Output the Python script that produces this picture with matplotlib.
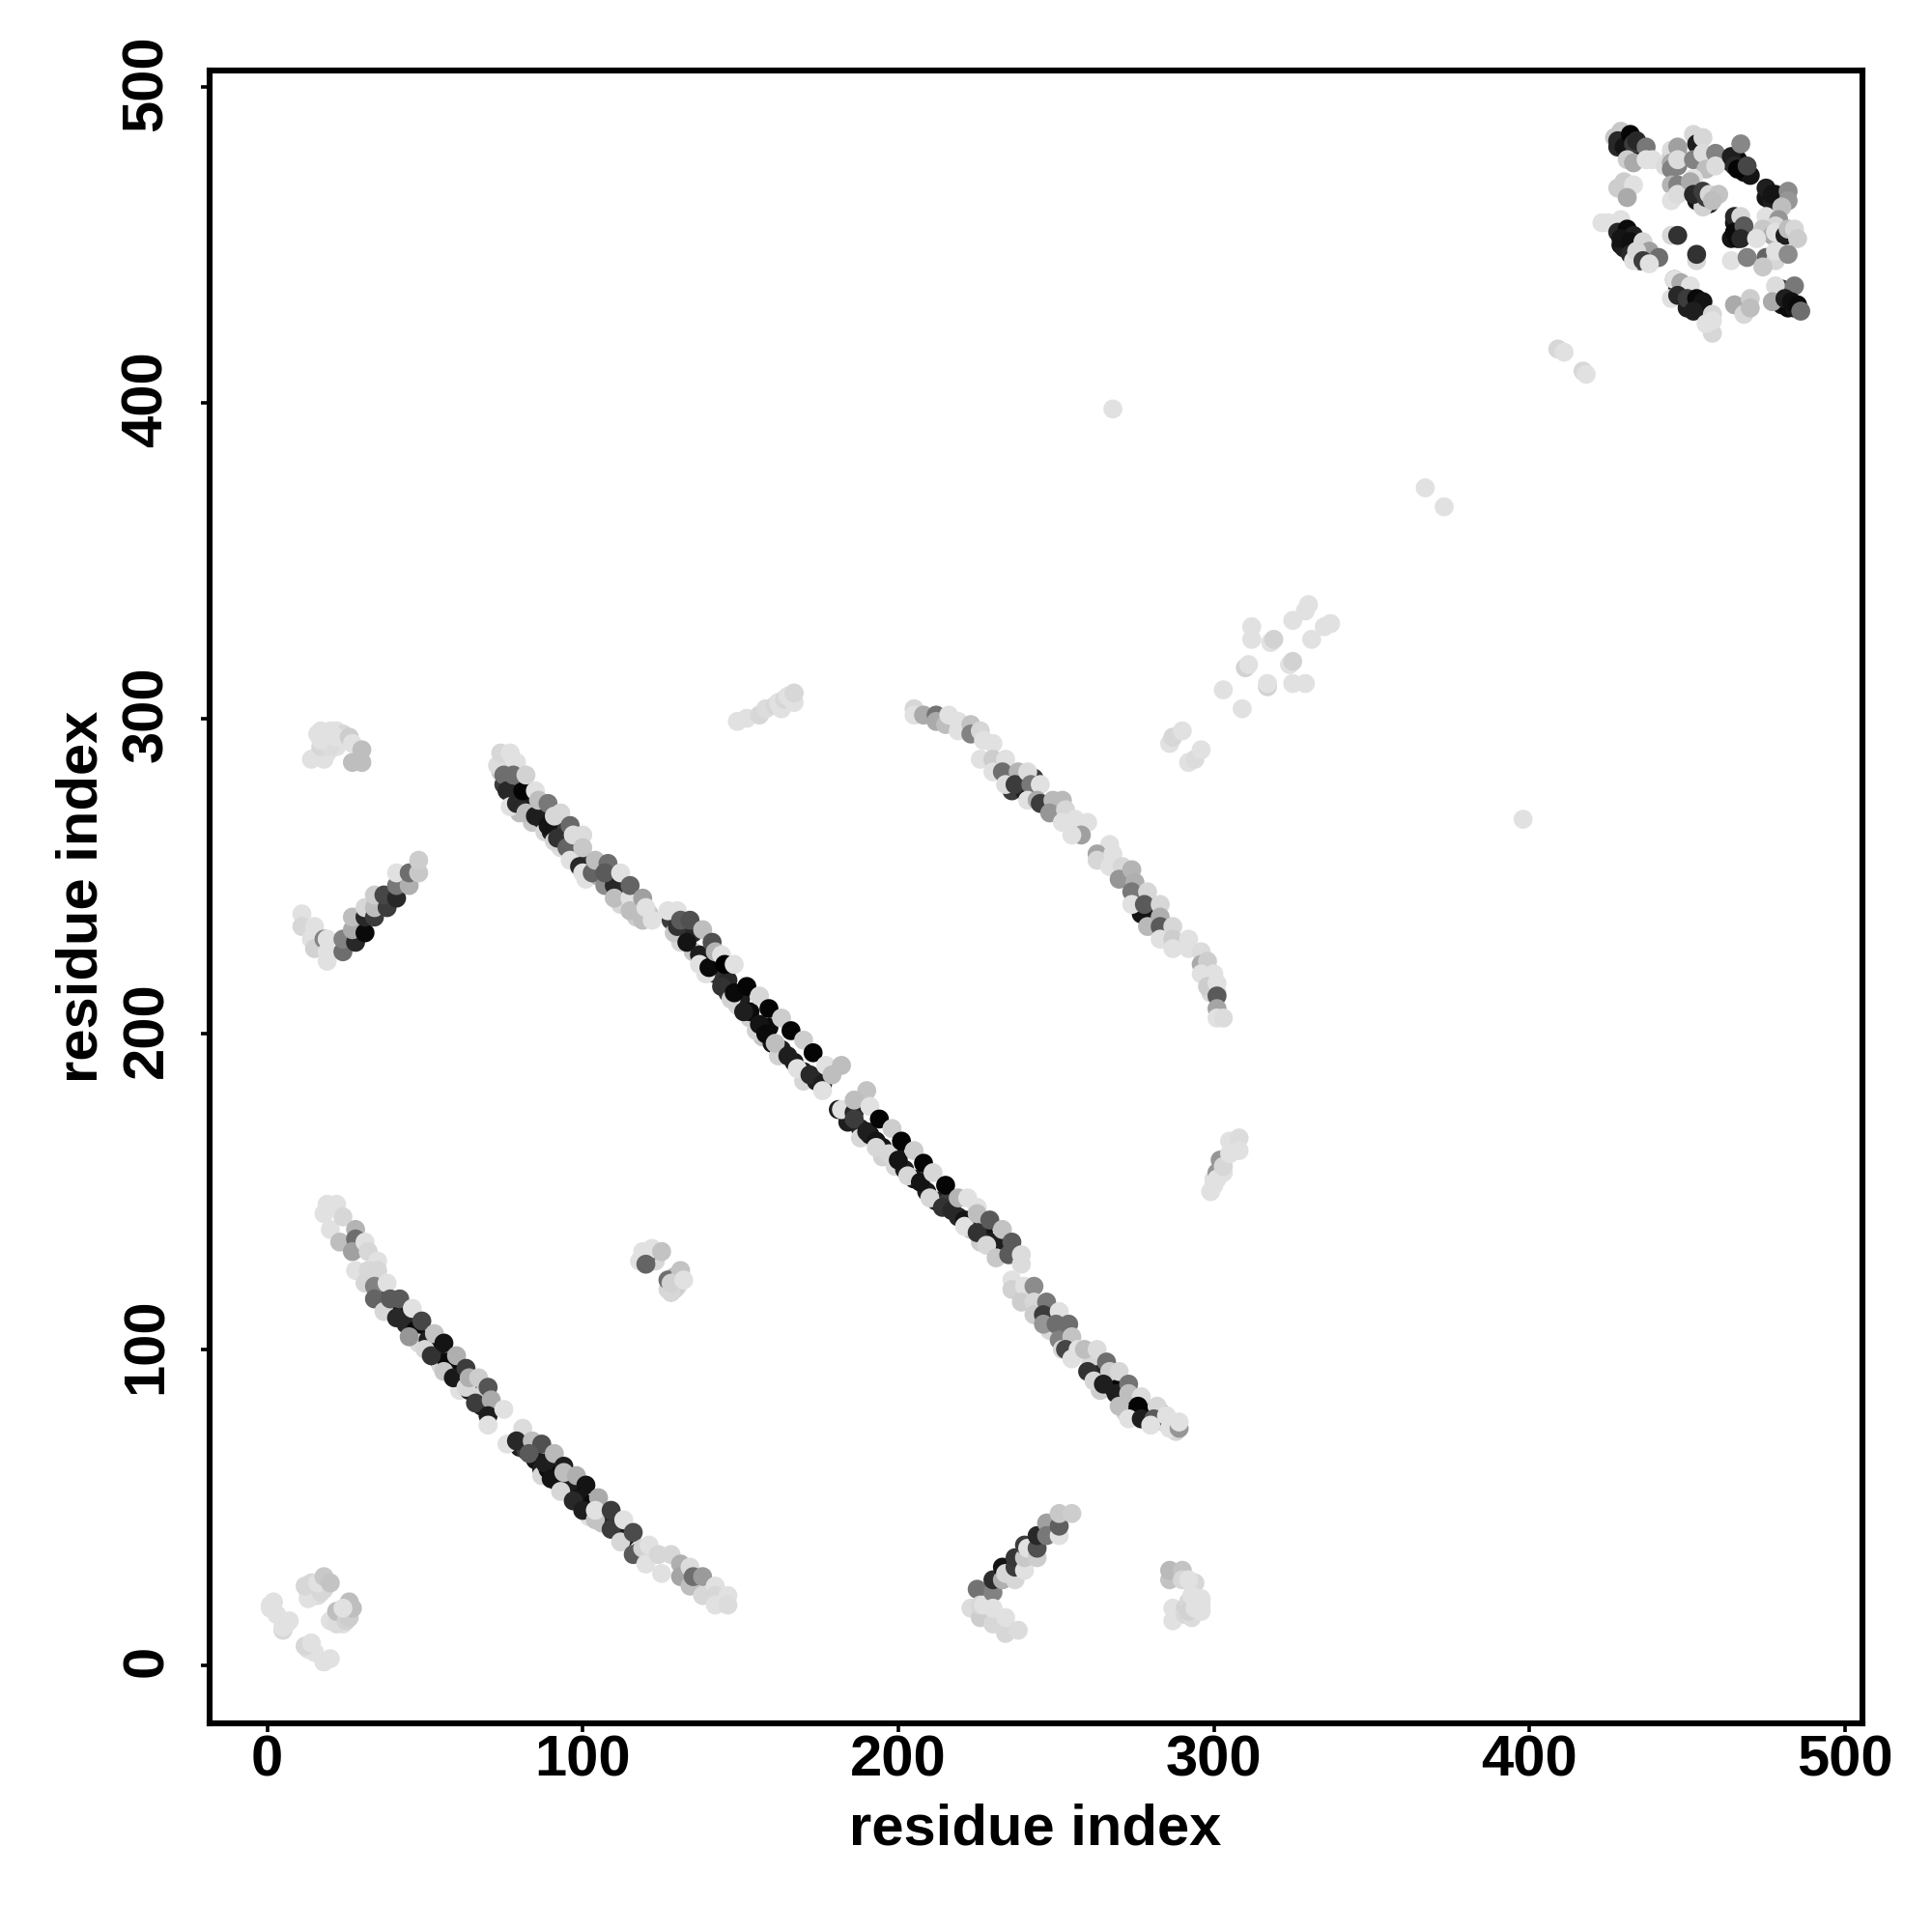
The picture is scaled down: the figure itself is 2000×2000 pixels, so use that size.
import matplotlib
matplotlib.use('Agg')
import matplotlib.pyplot as plt
from matplotlib.transforms import ScaledTranslation

plt.rcParams['font.family'] = ['Liberation Sans', 'DejaVu Sans']
plt.rcParams['font.weight'] = 'bold'

# darker contacts lying under the upper rows of each band
under_a_x = [74,75,77,78,80,83,84,87,88,90,93,93,97,98,101,101,105,105,108,112,112,117,117,121,128,131,131,135,135,139,142,139,146,146,149,150,153,153,157,159,160,163,162,167,170,170,174]
under_a_y = [283,279,280,275,270,272,267,268,264,264,264,259,257,255,254,249,250,252,248,245,241,241,237,238,236,231,229,232,226,224,219,219,217,213,209,211,205,207,199,202,197,195,193,191,188,185,185]
under_a_g = [200,60,120,30,190,30,200,40,215,30,60,220,130,215,60,225,170,80,60,60,215,50,205,200,60,60,215,40,200,20,50,225,40,60,215,30,210,10,200,10,20,30,210,25,30,215,30]

under_b_x = [184,188,188,191,195,195,199,199,202,205,209,212,216,219,223,223,227,226,229,232]
under_b_y = [172,170,167,168,164,161,162,158,157,154,150,147,147,142,138,141,137,134,134,133]
under_b_g = [30,35,215,20,20,210,30,215,30,25,30,40,60,40,205,30,20,205,30,30]

under_c_x = [241,248,252,261,263,264,267,268,271,272,274,272,275,278,279,283,284,288]
under_c_y = [118,106,104,96,92,87,90,88,84,86,82,80,80,81,79,80,77,74]
under_c_g = [215,215,100,215,40,205,5,5,5,20,5,210,30,20,5,40,210,215]

under_d_x = [36,40,43,44,47,48,51,51,54,55,57,58,61,61,64,67,68,70]
under_d_y = [118,114,113,108,106,102,103,100,97,95,96,93,90,87,87,85,82,81]
under_d_g = [70,40,20,40,10,220,30,10,30,215,10,10,20,225,30,215,30,30]

under_e_x = [80,82,85,87,87,89,91,92,95,95,97,99,101,102,103,106,106,108,111,113,114,118]
under_e_y = [69,68,65,62,60,62,60,58,58,55,56,53,50,47,51,49,45,47,43,40,41,36]
under_e_g = [30,60,20,30,215,10,5,30,20,30,30,20,20,225,10,180,195,40,40,20,30,60]

under_domain_x = [427,428,429,431,431,433,447,449,450,452,454,455,456,449,429,431,430,433,435,433,436,437,480,482,484,479,480,464,466,468,470,475,477,478,465,466,464,468,466,451,453,454,457,455,447,445,447]
under_domain_y = [484,481,484,483,479,479,436,433,430,431,430,429,428,437,450,452,449,449,445,447,447,445,431,430,430,433,436,476,477,473,472,465,463,466,457,455,452,453,452,467,464,465,463,462,480,478,475]
under_domain_g = [200,40,30,10,60,30,30,10,30,10,20,20,40,120,20,10,30,20,30,30,20,50,20,10,20,30,60,30,10,10,20,20,30,30,20,30,20,30,10,10,20,30,30,210,170,200,130]

under_curve_x = [235,236,239,240,243,243,278,278,277,301,299]
under_curve_y = [281,277,281,277,277,281,238,243,238,213,213]
under_curve_g = [60,60,30,30,90,60,30,60,20,215,215]

# main anti-diagonal, residues 73-182
band_a_low_x = [73,75,76,77,79,81,82,85,89,91,92,95,96,99,100,103,107,110,110,115,115,119,129,130,133,137,137,140,144,147,148,151,155,156,158,161,165,168,172,176,176]
band_a_low_y = [285,282,277,272,273,277,270,269,266,261,262,259,255,253,251,251,247,247,243,243,239,236,232,234,229,225,222,221,215,211,213,207,201,203,200,197,193,189,187,184,182]
band_a_low_g = [220,110,40,225,40,5,190,30,20,215,50,100,225,40,225,100,140,40,190,225,190,190,200,50,20,30,225,10,50,210,10,30,210,20,10,190,30,225,40,30,225]

band_a_up_x = [74,77,79,78,82,85,86,89,91,93,96,97,100,100,104,108,107,112,115,119,120,122,127,130,131,134,138,141,142,144,145,148,152,156,159,163,166,170,173,177,179,182]
band_a_up_y = [289,289,286,282,282,277,274,273,269,270,266,263,263,259,255,254,251,251,247,243,240,236,239,239,236,236,233,229,226,225,222,222,215,212,208,205,201,198,194,190,187,190]
band_a_up_g = [215,225,225,110,210,225,190,120,215,215,105,220,220,200,190,110,90,225,100,160,225,225,225,225,90,80,190,80,180,225,0,225,5,215,5,205,5,205,5,225,190,190]

# main anti-diagonal, residues 181-239
band_b_low_x = [181,182,186,186,190,193,193,197,200,203,207,210,214,217,221,221,225,228,231,235]
band_b_low_y = [176,176,175,173,169,166,164,162,160,155,153,148,145,144,141,139,137,133,129,130]
band_b_low_g = [30,225,40,60,30,20,215,215,20,215,20,215,50,40,20,225,50,215,200,90]

band_b_up_x = [190,186,191,194,198,201,205,208,211,215,219,222,225,225,229,233,236,239,239]
band_b_up_y = [182,179,177,173,170,166,163,159,156,152,148,148,145,143,141,138,134,127,130]
band_b_up_g = [195,190,225,5,205,5,205,5,215,5,180,225,225,190,90,195,90,220,220]

# main anti-diagonal, residues 236-289
band_c_x = [236,236,240,239,243,243,243,247,246,246,251,250,251,252,254,255,253,255,257,259,263,260,262,266,267,270,265,269,273,270,273,277,282,276,273,277,281,280,285,286,289,289]
band_c_y = [122,119,120,115,120,115,111,115,111,108,112,108,103,100,108,104,100,97,100,100,100,93,90,96,93,93,89,86,89,82,86,85,82,82,78,78,78,76,79,75,75,77]
band_c_g = [225,210,225,205,140,215,205,120,60,150,225,110,130,215,110,195,70,225,225,190,220,50,215,110,205,215,30,30,115,190,190,220,215,5,225,30,90,225,225,225,150,225]

# lower band, residues 18-75
band_d_x = [18,19,22,20,24,23,28,28,27,31,32,28,35,31,32,35,34,34,38,37,39,42,41,46,49,45,50,53,52,56,56,60,59,63,63,64,67,70,66,71,70,75,70]
band_d_y = [143,146,146,138,142,134,138,135,131,134,131,125,128,121,125,125,120,116,121,112,116,116,110,113,109,104,100,105,98,102,93,98,91,94,88,91,91,88,83,84,79,81,76]
band_d_g = [225,225,225,225,215,190,180,110,160,225,215,225,225,215,215,215,130,100,225,215,90,90,40,225,70,150,215,195,50,20,200,175,25,60,215,175,205,85,60,170,30,225,225]

# lower band, residues 76-146
band_e_x = [76,81,79,84,87,83,88,91,94,90,93,94,98,97,101,105,100,104,104,109,109,113,112,116,116,119,121,120,124,128,125,131,131,134,134,135,138,138,142,142,146,142,146]
band_e_y = [70,75,71,71,70,67,64,67,63,59,55,61,60,52,57,53,49,46,49,49,43,46,39,42,35,37,38,32,35,35,29,32,28,31,25,28,28,22,25,22,22,19,19]
band_e_g = [225,220,40,190,80,90,30,185,30,20,215,190,175,40,20,170,30,195,225,60,60,225,215,75,90,210,225,225,215,215,225,175,165,220,190,110,155,215,225,215,225,225,220]

# small patch near (125, 125)
patch_mid_x = [121,123,120,130,127,129,129,118,119,122,120,125,127,128,131,128,132]
patch_mid_y = [129,128,129,120,119,123,119,128,131,132,127,131,122,118,125,121,122]
patch_mid_g = [225,215,120,215,215,190,205,225,225,225,100,195,110,215,195,210,225]

# corner patch near the origin
patch_origin_x = [3,6,13,15,16,18,15,23,24,13,15,1,2,1,5,7,5,12,14,18,20,18,13,12,14,17,16,18,20,20,22,22,25,26,26,27,24]
patch_origin_y = [16,13,23,22,22,24,24,15,13,5,4,19,20,18,11,14,12,6,7,1,2,1,21,25,26,23,26,28,26,14,13,17,14,15,20,18,18]
patch_origin_g = [225,225,220,225,220,215,225,225,225,225,225,225,225,225,215,225,225,215,225,225,225,225,225,215,215,215,225,200,195,225,220,190,210,205,190,190,225]

# patch top left
patch_top_x = [16,18,22,24,19,22,16,14,18,17,20,17,20,17,22,26,27,27,30,30]
patch_top_y = [295,295,296,295,289,291,288,287,287,296,296,291,291,293,294,294,292,286,286,290]
patch_top_g = [225,225,225,215,225,225,215,225,225,225,225,215,220,225,225,205,225,190,190,190]

# short band rising, residues 11-48
rise_left_x = [11,11,15,14,15,18,19,19,19,24,24,28,27,27,31,31,31,34,34,34,38,37,41,41,41,45,45,48,48]
rise_left_y = [238,234,234,230,227,230,230,223,226,226,230,229,233,237,232,237,240,237,240,244,240,244,243,247,251,247,251,251,255]
rise_left_g = [225,215,225,225,210,130,225,225,225,110,130,40,170,190,10,40,215,60,190,205,60,70,40,120,225,175,110,200,205]

# short band rising, residues 223-255
rise_mid_x = [223,225,226,226,230,227,230,230,230,234,234,238,233,233,234,237,237,237,240,240,240,241,244,244,244,247,247,251,251,251,255]
rise_mid_y = [18,24,15,19,13,19,23,18,27,10,15,11,27,31,29,27,31,34,30,34,38,37,34,37,41,45,41,41,44,48,48]
rise_mid_g = [220,115,205,215,215,225,130,225,45,215,225,220,175,20,215,215,60,55,225,200,60,225,205,80,40,160,120,225,95,200,205]

# patch near (290, 20)
patch_low_x = [286,286,290,290,294,292,287,287,291,291,292,293,292,294,293,296,296,296,295]
patch_low_y = [27,30,30,27,26,27,18,14,18,16,20,15,17,18,22,19,17,21,19]
patch_low_g = [195,185,195,215,215,225,225,225,210,215,215,220,210,225,225,225,225,225,225]

# curved band, residues 205-303
curve_x = [205,205,208,212,212,215,216,219,219,223,223,226,227,230,226,230,230,234,233,234,238,237,241,242,241,245,244,245,249,252,248,253,252,256,260,258,255,267,263,263,268,267,271,270,274,275,274,274,279,278,279,283,283,283,283,287,287,287,292,292,296,296,298,296,300,298,301,301,301,301,303]
curve_y = [303,301,301,301,299,298,301,299,296,298,295,296,293,292,287,287,283,287,283,279,283,279,283,279,274,279,274,273,274,274,270,271,267,268,267,263,263,260,257,255,257,253,253,249,252,248,245,241,245,241,234,241,237,234,230,234,230,227,230,227,226,222,223,219,219,215,216,212,208,205,205]
curve_g = [215,225,170,115,170,190,225,225,225,195,130,215,225,225,225,205,225,225,110,220,180,60,220,120,225,225,170,60,185,185,150,215,225,225,225,160,225,225,165,215,225,225,215,150,180,175,120,225,215,90,185,215,175,90,225,215,205,225,225,225,220,170,205,225,225,205,225,90,165,225,220]

# patch near (303, 158)
patch_right_x = [303,300,299,300,301,301,302,303,305,305,308,308]
patch_right_y = [156,154,150,152,156,154,160,158,162,166,167,163]
patch_right_g = [225,225,225,225,150,225,150,215,225,225,220,225]

# patch near (158, 303)
patch_upper_x = [149,152,156,158,161,162,163,164,165,167,167]
patch_upper_y = [299,300,301,303,304,305,303,306,307,305,308]
patch_upper_g = [225,225,215,220,215,225,225,215,225,225,215]

# faint contacts around (310, 315)
faint_x = [286,287,290,292,294,296,303,309,310,311,317,317,312,312,318,319,324,325,325,329,325,329,330,331,335,337]
faint_y = [292,294,296,286,287,290,309,303,316,317,310,311,329,325,324,325,317,318,311,311,331,334,336,325,329,330]
faint_g = [225,215,225,225,220,225,225,225,210,225,210,225,225,225,225,210,225,210,225,225,225,225,225,225,225,225]

# single contacts
lone_x = [268,398,367,373,409,411,417,418]
lone_y = [398,268,373,367,417,416,410,409]
lone_g = [225,225,225,225,215,225,215,225]

# top right domain
domain_x = [429,428,430,432,433,434,437,431,433,437,439,443,445,447,445,445,447,452,453,455,452,455,456,459,459,464,465,467,466,469,
            445,447,445,447,452,451,452,455,456,457,460,458,475,477,482,482,480,475,479,478,474,477,478,481,482,484,485,
            428,430,433,431,423,425,429,428,431,433,429,432,432,436,438,433,434,436,441,438,445,447,453,453,
            445,446,446,448,451,447,450,453,455,452,458,458,458,456,465,470,468,470,478,484,477,481,483,485,486,
            465,467,465,468,467,472,464,469,475,478,478,482,474]
domain_y = [486,483,481,485,482,483,481,477,476,477,477,475,480,481,476,474,477,485,482,484,477,479,474,479,475,478,475,482,474,475,
            469,469,464,466,471,470,466,467,465,466,466,464,468,466,467,464,462,459,458,456,455,453,454,453,455,455,452,
            468,470,469,465,457,457,458,454,455,453,452,451,447,451,448,445,448,445,446,444,453,453,445,447,
            433,439,439,438,437,434,433,433,432,429,428,422,426,425,431,433,428,430,437,437,432,433,432,431,429,
            459,459,454,456,452,452,445,446,446,445,448,447,443]
domain_g = [200,40,20,5,60,40,120,205,170,225,225,220,220,160,170,130,220,215,30,215,130,220,190,130,220,30,40,135,5,70,
            180,130,225,220,225,170,40,60,60,215,195,190,30,20,140,150,190,225,150,215,200,170,225,30,190,215,205,
            205,205,225,170,225,225,225,40,10,30,20,15,40,215,160,225,215,60,110,225,215,50,215,50,
            225,120,225,170,225,40,60,10,20,30,215,215,225,225,170,205,215,190,220,120,170,30,15,10,110,
            40,215,10,90,40,225,225,130,100,215,225,140,200]

# draw order follows the list order
groups = [
    (under_a_x, under_a_y, under_a_g),
    (band_a_low_x, band_a_low_y, band_a_low_g),
    (band_a_up_x, band_a_up_y, band_a_up_g),
    (under_b_x, under_b_y, under_b_g),
    (band_b_low_x, band_b_low_y, band_b_low_g),
    (band_b_up_x, band_b_up_y, band_b_up_g),
    (under_c_x, under_c_y, under_c_g),
    (band_c_x, band_c_y, band_c_g),
    (under_d_x, under_d_y, under_d_g),
    (band_d_x, band_d_y, band_d_g),
    (under_e_x, under_e_y, under_e_g),
    (band_e_x, band_e_y, band_e_g),
    (patch_mid_x, patch_mid_y, patch_mid_g),
    (patch_origin_x, patch_origin_y, patch_origin_g),
    (patch_top_x, patch_top_y, patch_top_g),
    (rise_left_x, rise_left_y, rise_left_g),
    (rise_mid_x, rise_mid_y, rise_mid_g),
    (patch_low_x, patch_low_y, patch_low_g),
    (under_curve_x, under_curve_y, under_curve_g),
    (curve_x, curve_y, curve_g),
    (patch_right_x, patch_right_y, patch_right_g),
    (patch_upper_x, patch_upper_y, patch_upper_g),
    (faint_x, faint_y, faint_g),
    (lone_x, lone_y, lone_g),
    (under_domain_x, under_domain_y, under_domain_g),
    (domain_x, domain_y, domain_g),
]

fig = plt.figure(figsize=(10, 10), dpi=200)
ax = fig.add_axes([216.5 / 2000, 1 - 1783.7 / 2000, 1711 / 2000, 1711.2 / 2000])

for gx, gy, gg in groups:
    ax.scatter(gx, gy, c=gg, cmap='gray', vmin=0, vmax=255, s=50, linewidths=0, clip_on=False)

ax.set_xlim(-18.4, 505.4)
ax.set_ylim(-18.4, 505.4)
ax.set_xticks([0, 100, 200, 300, 400, 500])
ax.set_yticks([0, 100, 200, 300, 400, 500])
ax.tick_params(axis='both', length=3.4, width=1.3, labelsize=21.5)
ax.tick_params(axis='x', pad=0.8)
ax.tick_params(axis='y', pad=9.7)
plt.setp(ax.get_yticklabels(), rotation=90, va='center')
# rotated labels sit a little low, nudge them onto the ticks
for lab in ax.get_yticklabels():
    lab.set_transform(lab.get_transform() + ScaledTranslation(0, 1.4 / 72, fig.dpi_scale_trans))
for spine in ax.spines.values():
    spine.set_linewidth(2.2)

ax.set_xlabel('residue index', fontsize=21.5, fontweight='bold')
ax.set_ylabel('residue index', fontsize=21.5, fontweight='bold')
ax.xaxis.set_label_coords(0.5, -0.0485)
ax.yaxis.set_label_coords(-0.061, 0.5)

plt.savefig('out.png', dpi=200)
